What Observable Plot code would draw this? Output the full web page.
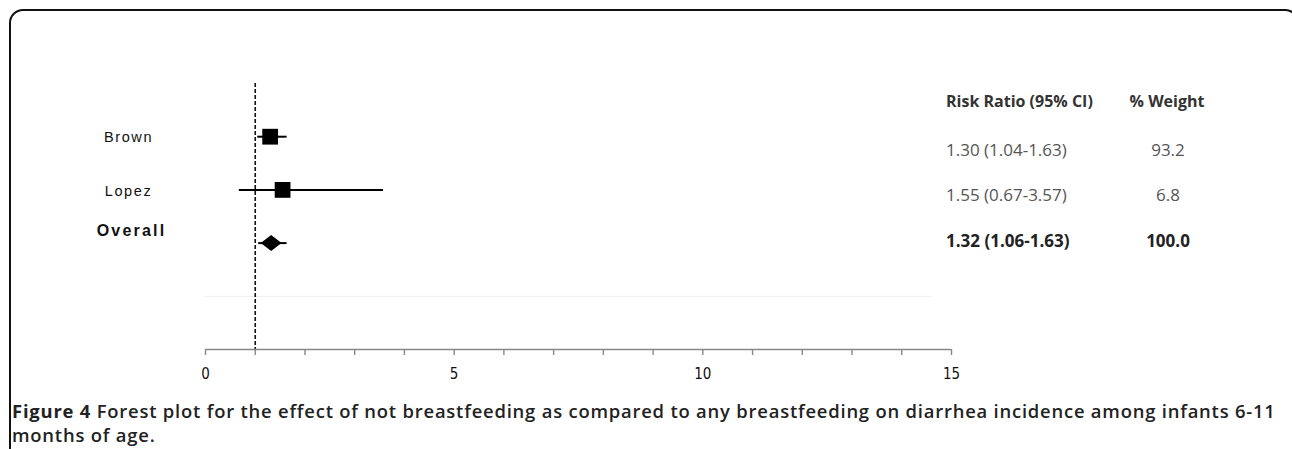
<!DOCTYPE html>
<html>
<head>
<meta charset="utf-8">
<script src="https://cdn.jsdelivr.net/npm/d3@7"></script>
<script src="https://cdn.jsdelivr.net/npm/@observablehq/plot@0.6"></script>
<style>
  html, body { margin: 0; padding: 0; background: #fff; width: 1292px; height: 449px; overflow: hidden; }
  #frame { position: absolute; left: 9px; top: 9px; width: 1290px; height: 480px; border: 2px solid #111; border-radius: 14px 14px 0 0; box-sizing: border-box; }
  #chart { position: absolute; left: 0; top: 0; }
  .tbl { position: absolute; font-family: "Open Sans", sans-serif; font-size: 17px; white-space: nowrap; line-height: 1; transform: translateY(-50%); }
  .hdr { font-weight: 700; color: #333; font-size: 16px; }
  .val { color: #555; }
  .tot { font-weight: 700; color: #222; }
  .ctr { transform: translate(-50%, -50%); }
  #caption { position: absolute; left: 12px; top: 399px; width: 1280px; font-family: "Open Sans", sans-serif; font-size: 18.4px; letter-spacing: 0.8px; font-weight: 600; color: #222; line-height: 24px; }
  #caption div { white-space: nowrap; }
  #caption .fig { font-weight: 700; }
</style>
</head>
<body>
<div id="frame"></div>
<div id="chart"></div>
<div id="table"></div>
<div id="caption">
  <div><span class="fig">Figure 4</span> <span class="txt">Forest plot for the effect of not breastfeeding as compared to any breastfeeding on diarrhea incidence among infants 6-11</span></div>
  <div><span class="txt">months of age.</span></div>
</div>
<script>
// ---- data ----
const studyNames = ["Brown", "Lopez", "Overall"];
const riskRatio = [1.30, 1.55, 1.32];
const ciLow = [1.04, 0.67, 1.06];
const ciHigh = [1.63, 3.57, 1.63];
const weights = ["93.2", "6.8", "100.0"];
const ciLabels = ["1.30 (1.04-1.63)", "1.55 (0.67-3.57)", "1.32 (1.06-1.63)"];
const tableHeaders = ["Risk Ratio (95% CI)", "% Weight"];
const xTicks = d3.range(0, 16);
const xTickLabels = [0, 5, 10, 15];
const nullLine = 1;

const rows = studyNames.map((name, i) => ({
  name, row: i + 1, rr: riskRatio[i], lo: ciLow[i], hi: ciHigh[i],
  overall: name === "Overall"
}));

const wideDiamond = {
  draw(ctx, size) {
    const s = Math.sqrt(size / Math.PI);
    ctx.moveTo(-s * 1.3, 0);
    ctx.lineTo(0, -s);
    ctx.lineTo(s * 1.3, 0);
    ctx.lineTo(0, s);
    ctx.closePath();
  }
};

const chart = Plot.plot({
  width: 1292,
  height: 390,
  marginLeft: 205,
  marginRight: 341,
  marginTop: 83,
  marginBottom: 41,
  x: { domain: [0, 15] },
  y: { domain: [0, 5], reverse: true, axis: null },
  style: { background: "transparent", overflow: "visible" },
  marks: [
    Plot.ruleY([4], { x1: 0, x2: 14.6, stroke: "#eeeeee", strokeWidth: 1 }),
    Plot.ruleX([nullLine], { y1: 0, y2: 5, stroke: "#111", strokeWidth: 1.6, strokeDasharray: "4,2" }),
    Plot.ruleY([5], { stroke: "#888", strokeWidth: 1.6 }),
    Plot.axisX({
      ticks: xTicks,
      tickSize: 6,
      tickPadding: 13,
      stroke: "#888",
      strokeWidth: 1.4,
      tickFormat: d => xTickLabels.includes(d) ? String(d) : "",
      fontSize: 15,
      fontFamily: "'DejaVu Sans Condensed', 'Liberation Sans Narrow', sans-serif",
      fill: "#111",
      label: null
    }),
    Plot.link(rows, { x1: "lo", x2: "hi", y1: "row", y2: "row", stroke: "#000", strokeWidth: 2 }),
    Plot.dot(rows.filter(d => !d.overall), { x: "rr", y: "row", symbol: "square", r: 8.9, fill: "#000", stroke: "none" }),
    Plot.dot(rows.filter(d => d.overall), { x: "rr", y: "row", symbol: wideDiamond, r: 8, fill: "#000", stroke: "none" }),
    Plot.text(rows.filter(d => !d.overall), {
      x: 0, y: "row", text: "name", dx: -77, dy: 1, textAnchor: "middle",
      fontSize: 14.5, fontFamily: "'Liberation Sans', Arial, sans-serif", fill: "#111",
      className: "study-label"
    }),
    Plot.text(rows.filter(d => d.overall), {
      x: 0, y: "row", text: "name", dx: -74, dy: -12, textAnchor: "middle",
      fontSize: 16, fontWeight: "bold", fontFamily: "'Liberation Sans', Arial, sans-serif", fill: "#111",
      className: "overall-label"
    })
  ]
});
d3.select(chart).selectAll(".study-label text").style("letter-spacing", "1.6px");
d3.select(chart).selectAll(".overall-label text").style("letter-spacing", "2.2px");
document.getElementById("chart").appendChild(chart);

// ---- table to the right ----
const table = document.getElementById("table");
const headerY = 101;
const rowYs = [149, 194, 240];
function addCell(text, cls, left, top) {
  const el = document.createElement("div");
  el.className = "tbl " + cls;
  el.textContent = text;
  el.style.left = left + "px";
  el.style.top = top + "px";
  table.appendChild(el);
}
addCell(tableHeaders[0], "hdr", 946, headerY);
addCell(tableHeaders[1], "hdr ctr", 1167, headerY);
rows.forEach((d, i) => {
  const cls = d.overall ? "tot" : "val";
  addCell(ciLabels[i], cls, 946, rowYs[i]);
  addCell(weights[i], cls + " ctr", 1168, rowYs[i]);
});
</script>
</body>
</html>
